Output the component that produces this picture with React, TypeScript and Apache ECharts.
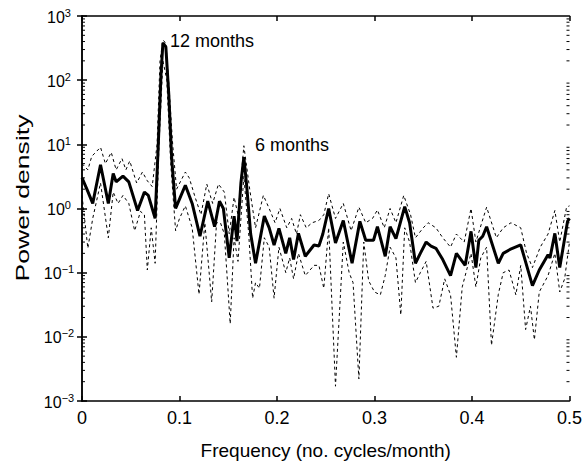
import React, { useEffect, useRef } from "react";
import * as echarts from "echarts";

// Smoothed spectrum (solid, thick)
const solidFreq = [
  0.0, 0.005, 0.011, 0.019, 0.027, 0.032, 0.035, 0.042, 0.048, 0.057, 0.064, 0.068, 0.075, 0.078,
  0.081, 0.083, 0.086, 0.089, 0.092, 0.096, 0.1, 0.106, 0.113, 0.121, 0.129, 0.136, 0.141, 0.145,
  0.151, 0.156, 0.159, 0.163, 0.166, 0.169, 0.173, 0.178, 0.187, 0.192, 0.197, 0.202, 0.209, 0.213,
  0.217, 0.222, 0.229, 0.238, 0.243, 0.247, 0.253, 0.26, 0.268, 0.277, 0.285, 0.291, 0.299, 0.303,
  0.311, 0.316, 0.322, 0.331, 0.336, 0.342, 0.347, 0.353, 0.358, 0.363, 0.37, 0.378, 0.384, 0.393,
  0.399, 0.404, 0.407, 0.411, 0.415, 0.427, 0.432, 0.439, 0.45, 0.462, 0.469, 0.478, 0.48, 0.485,
  0.49, 0.498, 0.5,
];
const solidPower = [
  3.0, 2.0, 1.2, 4.8, 1.2, 3.5, 2.6, 3.2, 2.6, 0.93, 1.8, 1.6, 0.7, 8,
  120, 380, 330, 60, 6, 1.0, 1.4, 2.3, 1.2, 0.37, 1.3, 0.52, 1.3, 1.0,
  0.17, 0.76, 0.31, 2.5, 6.3, 2.2, 0.4, 0.14, 0.76, 0.5, 0.27, 0.49, 0.2, 0.35,
  0.16, 0.41, 0.18, 0.27, 0.26, 0.4, 1.0, 0.29, 0.65, 0.14, 0.63, 0.32, 0.32, 0.52,
  0.18, 0.52, 0.34, 1.07, 0.6, 0.14, 0.2, 0.3, 0.26, 0.24, 0.16, 0.09, 0.2, 0.13,
  0.44, 0.12, 0.32, 0.37, 0.52, 0.14, 0.2, 0.23, 0.27, 0.063, 0.11, 0.19, 0.17, 0.41,
  0.12, 0.63, 0.7,
];

// Upper dashed curve
const upperFreq = [
  0.0, 0.006, 0.01, 0.019, 0.024, 0.03, 0.035, 0.041, 0.045, 0.049, 0.056, 0.062, 0.067, 0.072,
  0.077, 0.08, 0.083, 0.086, 0.089, 0.093, 0.097, 0.106, 0.11, 0.116, 0.122, 0.128, 0.134, 0.14,
  0.146, 0.151, 0.156, 0.16, 0.166, 0.172, 0.178, 0.186, 0.192, 0.198, 0.203, 0.21, 0.215, 0.22,
  0.224, 0.23, 0.236, 0.243, 0.248, 0.253, 0.26, 0.268, 0.276, 0.284, 0.291, 0.298, 0.303, 0.31,
  0.316, 0.322, 0.33, 0.337, 0.342, 0.35, 0.355, 0.363, 0.37, 0.378, 0.384, 0.392, 0.399, 0.404,
  0.41, 0.415, 0.425, 0.432, 0.44, 0.45, 0.456, 0.462, 0.47, 0.478, 0.485, 0.49, 0.497, 0.5,
];
const upperPower = [
  5, 4, 6.5, 9, 5, 7.5, 4, 6, 4, 5.5, 2.5, 3.7, 2.7, 2.2,
  10, 200, 420, 380, 90, 10, 2, 3.7, 3, 1.5, 0.8, 2.4, 1.2, 2.4,
  1.8, 0.4, 1.5, 0.8, 9.5, 2, 0.5, 1.6, 1.0, 0.6, 1.0, 0.5, 0.7, 0.4,
  0.8, 0.5, 0.6, 0.65, 0.8, 1.7, 0.7, 1.2, 0.45, 1.05, 0.6, 0.7, 0.95, 0.5,
  1.0, 0.6, 1.6, 0.8, 0.35, 0.5, 0.6, 0.5, 0.35, 0.25, 0.4, 0.3, 1.0, 0.3,
  0.6, 1.05, 0.35, 0.5, 0.6, 0.5, 0.2, 0.12, 0.25, 0.4, 0.93, 0.3, 1.05, 1.1,
];

// Lower dashed curve
const lowerFreq = [
  0.0, 0.006, 0.011, 0.019, 0.027, 0.032, 0.037, 0.042, 0.048, 0.054, 0.06, 0.064, 0.067, 0.071,
  0.075, 0.079, 0.083, 0.087, 0.091, 0.096, 0.1, 0.106, 0.113, 0.12, 0.126, 0.133, 0.138, 0.142,
  0.146, 0.152, 0.156, 0.16, 0.166, 0.171, 0.175, 0.178, 0.182, 0.187, 0.192, 0.197, 0.202, 0.209,
  0.213, 0.217, 0.222, 0.229, 0.238, 0.243, 0.248, 0.253, 0.26, 0.268, 0.274, 0.278, 0.284, 0.289,
  0.294, 0.3, 0.306, 0.311, 0.316, 0.322, 0.327, 0.331, 0.336, 0.342, 0.347, 0.353, 0.36, 0.366,
  0.372, 0.378, 0.384, 0.39, 0.399, 0.404, 0.409, 0.415, 0.42, 0.427, 0.432, 0.438, 0.445, 0.45,
  0.455, 0.46, 0.464, 0.469, 0.478, 0.485, 0.49, 0.495, 0.5,
];
const lowerPower = [
  1.6, 0.24, 0.7, 2.5, 0.35, 1.8, 1.2, 1.6, 1.2, 0.45, 0.9, 0.8, 0.11, 0.5,
  0.14, 10, 200, 100, 5, 0.45, 0.7, 1.1, 0.5, 0.046, 0.6, 0.035, 0.6, 0.6,
  0.4, 0.016, 0.35, 0.15, 3.2, 0.4, 0.04, 0.07, 0.057, 0.35, 0.25, 0.04, 0.25, 0.1,
  0.17, 0.08, 0.2, 0.09, 0.13, 0.13, 0.057, 0.5, 0.0017, 0.3, 0.1, 0.07, 0.0022, 0.3,
  0.075, 0.05, 0.045, 0.09, 0.25, 0.17, 0.022, 0.5, 0.3, 0.07, 0.1, 0.15, 0.028, 0.03,
  0.08, 0.045, 0.0048, 0.06, 0.2, 0.06, 0.17, 0.25, 0.0074, 0.046, 0.1, 0.11, 0.045, 0.13,
  0.013, 0.03, 0.009, 0.05, 0.09, 0.2, 0.05, 0.08, 0.3,
];

const xTickLabels = ["0", "0.1", "0.2", "0.3", "0.4", "0.5"];
const yMinorMultipliers = [2, 3, 4, 5, 6, 7, 8, 9];
const yDecades = [-3, -2, -1, 0, 1, 2];

const FONT = "'Liberation Sans', Arial, Helvetica, sans-serif";

export default function App() {
  const ref = useRef<HTMLDivElement>(null);
  useEffect(() => {
    if (!ref.current) return;
    const chart = echarts.init(ref.current, null, { renderer: "svg" });
    const zip = (f: number[], p: number[]) => f.map((x, i) => [x, p[i]]);
    const minorTicks: number[][] = [];
    yDecades.forEach((d) =>
      yMinorMultipliers.forEach((m) => minorTicks.push([0, m * Math.pow(10, d)]))
    );
    const expLabel = (v: number) => {
      const e = Math.round(Math.log10(v));
      return `{b|10}{s|${e < 0 ? "\u2212" + -e : e}}`;
    };
    const axisLineStyle = { color: "#000", width: 1.5 };
    const tickStyle = { color: "#000", width: 1.5 };
    const dash = { color: "#000", width: 1, type: [3, 3] };
    chart.setOption({
      animation: false,
      backgroundColor: "#fff",
      grid: { left: 82, right: 13, top: 16, bottom: 61, containLabel: false },
      xAxis: [
        {
          type: "value",
          min: 0,
          max: 0.5,
          interval: 0.1,
          position: "bottom",
          axisLine: { show: true, lineStyle: axisLineStyle },
          axisTick: { show: true, inside: true, length: 5, lineStyle: tickStyle },
          axisLabel: {
            show: true,
            margin: 8,
            color: "#000",
            fontSize: 18,
            fontFamily: FONT,
            formatter: (v: number) => xTickLabels[Math.round(v * 10)],
          },
          splitLine: { show: false },
          name: "Frequency (no. cycles/month)",
          nameLocation: "middle",
          nameGap: 40,
          nameTextStyle: { color: "#000", fontSize: 19, fontFamily: FONT },
        },
        {
          type: "value",
          min: 0,
          max: 0.5,
          interval: 0.1,
          position: "top",
          axisLine: { show: true, lineStyle: axisLineStyle },
          axisTick: { show: true, inside: true, length: 5, lineStyle: tickStyle },
          axisLabel: { show: false },
          splitLine: { show: false },
        },
      ],
      yAxis: [
        {
          type: "log",
          logBase: 10,
          min: 0.001,
          max: 1000,
          splitNumber: 6,
          position: "left",
          axisLine: { show: true, lineStyle: axisLineStyle },
          axisTick: { show: true, inside: true, length: 5, lineStyle: tickStyle },
          minorTick: { show: false },
          axisLabel: {
            show: true,
            margin: 23,
            align: "center",
            formatter: expLabel,
            rich: {
              b: { fontSize: 16, fontFamily: FONT, color: "#000", lineHeight: 18, verticalAlign: "bottom" },
              s: { fontSize: 11, fontFamily: FONT, color: "#000", lineHeight: 8, verticalAlign: "top" },
            },
          },
          splitLine: { show: false },
        },
        {
          type: "log",
          logBase: 10,
          min: 0.001,
          max: 1000,
          splitNumber: 6,
          position: "right",
          axisLine: { show: true, lineStyle: axisLineStyle },
          axisTick: { show: true, inside: true, length: 5, lineStyle: tickStyle },
          axisLabel: { show: false },
          splitLine: { show: false },
        },
      ],
      series: [
        {
          type: "custom",
          xAxisIndex: 0,
          yAxisIndex: 0,
          silent: true,
          clip: false,
          data: minorTicks,
          renderItem: (params: any, api: any) => {
            const v = api.value(1);
            const l = api.coord([0, v]);
            const r = api.coord([0.5, v]);
            return {
              type: "group",
              children: [
                { type: "line", shape: { x1: l[0], y1: l[1], x2: l[0] + 3, y2: l[1] }, style: { stroke: "#000", lineWidth: 1 } },
                { type: "line", shape: { x1: r[0] - 3, y1: r[1], x2: r[0], y2: r[1] }, style: { stroke: "#000", lineWidth: 1 } },
              ],
            };
          },
        },
        {
          type: "line",
          data: zip(upperFreq, upperPower),
          showSymbol: false,
          symbol: "none",
          lineStyle: dash,
          z: 2,
        },
        {
          type: "line",
          data: zip(lowerFreq, lowerPower),
          showSymbol: false,
          symbol: "none",
          lineStyle: dash,
          z: 2,
        },
        {
          type: "line",
          data: zip(solidFreq, solidPower),
          showSymbol: false,
          symbol: "none",
          lineStyle: { color: "#000", width: 3 },
          z: 3,
        },
      ],
      graphic: [
        {
          type: "text",
          left: 170,
          top: 32,
          style: { text: "12 months", fill: "#000", fontSize: 18, fontFamily: FONT },
        },
        {
          type: "text",
          left: 255,
          top: 136,
          style: { text: "6 months", fill: "#000", fontSize: 18, fontFamily: FONT },
        },
        {
          type: "text",
          x: 22,
          y: 198,
          rotation: Math.PI / 2,
          scaleX: 1.4,
          scaleY: 1,
          style: {
            text: "Power density",
            fill: "#000",
            fontSize: 19,
            fontFamily: FONT,
            align: "center",
            verticalAlign: "middle",
          },
        },
      ],
    });
    return () => chart.dispose();
  }, []);
  return (
    <div
      ref={ref}
      style={{ position: "fixed", left: 0, top: 0, width: 585, height: 465, background: "#fff" }}
    />
  );
}
